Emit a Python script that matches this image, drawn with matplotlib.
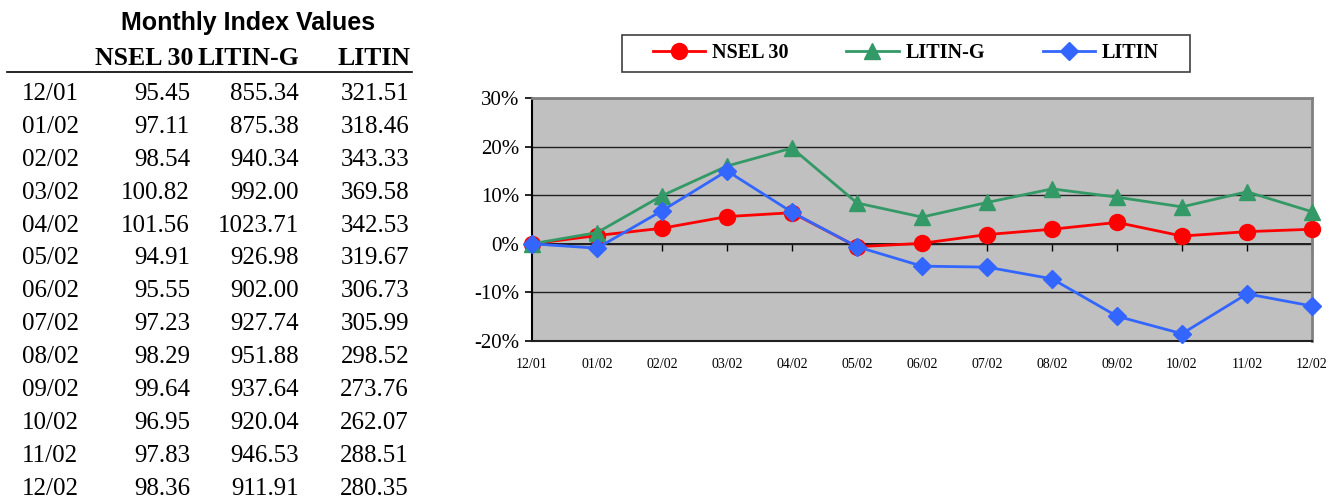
import matplotlib
matplotlib.use('Agg')
import matplotlib.pyplot as plt
from matplotlib.lines import Line2D
from matplotlib.patches import Rectangle

# table data
months = ['12/01', '01/02', '02/02', '03/02', '04/02', '05/02', '06/02',
          '07/02', '08/02', '09/02', '10/02', '11/02', '12/02']
nsel30 = [95.45, 97.11, 98.54, 100.82, 101.56, 94.91, 95.55,
          97.23, 98.29, 99.64, 96.95, 97.83, 98.36]
litin_g = [855.34, 875.38, 940.34, 992.00, 1023.71, 926.98, 902.00,
           927.74, 951.88, 937.64, 920.04, 946.53, 911.91]
litin = [321.51, 318.46, 343.33, 369.58, 342.53, 319.67, 306.73,
         305.99, 298.52, 273.76, 262.07, 288.51, 280.35]

# chart data (% change since 12/01)
nsel30_pct = [0.0, 1.7, 3.2, 5.6, 6.4, -0.6, 0.1, 1.9, 3.0, 4.4, 1.6, 2.5, 3.0]
litin_g_pct = [0.0, 2.3, 9.9, 16.0, 19.7, 8.4, 5.5, 8.5, 11.3, 9.6, 7.6, 10.7, 6.6]
litin_pct = [0.0, -0.9, 6.8, 15.0, 6.5, -0.6, -4.6, -4.8, -7.2, -14.9, -18.5, -10.3, -12.8]

W, H = 1343, 501
serif = 'Liberation Serif'
sans = 'Liberation Sans'

fig = plt.figure(figsize=(W / 100, H / 100), dpi=100)

def fx(x):
    return x / W

def fy(y):
    return 1 - y / H

# ---- table on the left ----
fig.text(fx(248), fy(23), 'Monthly Index Values', family=sans, weight='bold',
         fontsize=18, ha='center', va='center')

headers = ['NSEL 30', 'LITIN-G', 'LITIN']
head_right = [193, 299, 410]
col_right = [190, 299, 409]
for h, xr in zip(headers, head_right):
    fig.text(fx(xr), fy(65), h, family=serif, weight='bold', fontsize=18.5,
             ha='right', va='baseline')

fig.add_artist(Line2D([fx(7), fx(412)], [fy(72), fy(72)], color='black', lw=1.2))

for i, m in enumerate(months):
    yb = 100 + 32.9 * i
    fig.text(fx(22), fy(yb), m, family=serif, fontsize=18, ha='left', va='baseline')
    vals = [nsel30[i], litin_g[i], litin[i]]
    for v, xr in zip(vals, col_right):
        fig.text(fx(xr), fy(yb), f'{v:.2f}', family=serif, fontsize=18,
                 ha='right', va='baseline')

# ---- line chart ----
ax = fig.add_axes([fx(532), fy(341), (1312 - 532) / W, (341 - 98) / H])
ax.set_facecolor('#C0C0C0')
x = list(range(len(months)))

l1, = ax.plot(x, nsel30_pct, color='#FF0000', lw=2, marker='o', ms=11.5,
              clip_on=False, zorder=3)
l2, = ax.plot(x, litin_g_pct, color='#339966', lw=2, marker='^', ms=12,
              clip_on=False, zorder=4)
l3, = ax.plot(x, litin_pct, color='#3366FF', lw=2, marker='D', ms=9,
              clip_on=False, zorder=5)

ax.set_xlim(0, 12)
ax.set_ylim(-20, 30)
ax.set_yticks(range(-20, 31, 10))
ax.set_yticklabels([f'{v}%' for v in range(-20, 31, 10)], family=serif, fontsize=15)
ax.yaxis.grid(True, color='#202020', lw=1)
ax.set_axisbelow(True)
ax.tick_params(axis='y', direction='out', length=5, width=1.2, pad=4)

ax.set_xticks(x)
ax.set_xticklabels(months, family=serif, fontsize=10)
ax.tick_params(axis='x', length=0, pad=12)

# zero line carries the category tick marks
zero = ax.secondary_xaxis(0.4)
zero.set_xticks(x)
zero.set_xticklabels([])
zero.tick_params(direction='out', length=5, width=1)
zero.spines['bottom'].set_color('black')
zero.spines['bottom'].set_linewidth(1.2)

ax.spines['left'].set_color('black')
ax.spines['left'].set_linewidth(1.5)
ax.spines['bottom'].set_color('#202020')
ax.spines['bottom'].set_linewidth(1.5)
ax.spines['top'].set_color('#808080')
ax.spines['top'].set_linewidth(2)
ax.spines['right'].set_color('#808080')
ax.spines['right'].set_linewidth(2)

# legend box drawn separately so it can be wider than matplotlib's padding
fig.add_artist(Rectangle((fx(622), fy(72)), (1190 - 622) / W, 37 / H,
                         transform=fig.transFigure, facecolor='white',
                         edgecolor='#404040', lw=1.2))
leg = fig.legend([l1, l2, l3], ['NSEL 30', 'LITIN-G', 'LITIN'], ncol=3,
                 loc='center', bbox_to_anchor=(fx(906), fy(53.5)),
                 prop={'family': serif, 'weight': 'bold', 'size': 14.5},
                 frameon=False, handlelength=2.6,
                 handletextpad=0.35, columnspacing=2.85, borderpad=0.3,
                 borderaxespad=0)

fig.savefig('out.png', dpi=100)
